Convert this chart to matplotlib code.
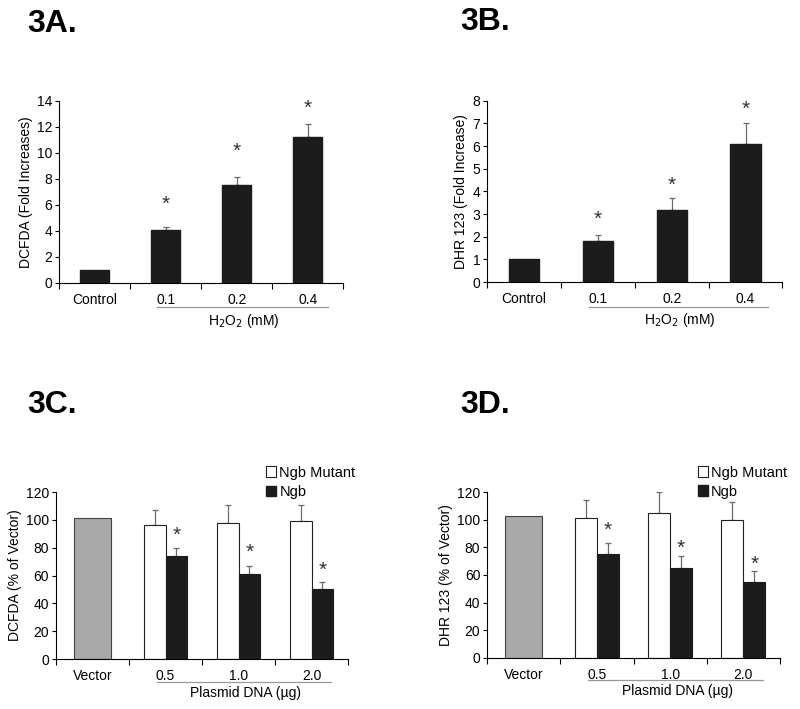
import matplotlib
matplotlib.use('Agg')
import matplotlib.pyplot as plt
from matplotlib.transforms import blended_transform_factory
from matplotlib.patches import Patch

plt.rcParams['font.family'] = ['Liberation Sans', 'DejaVu Sans']
plt.rcParams['font.size'] = 10

# data
h2o2_labels = ['Control', '0.1', '0.2', '0.4']
dcfda_fold = [1.0, 4.1, 7.5, 11.2]
dcfda_fold_err = [0.0, 0.2, 0.6, 1.0]
dcfda_fold_star = [None, 6.0, 10.1, 13.4]
dhr_fold = [1.0, 1.8, 3.2, 6.1]
dhr_fold_err = [0.0, 0.3, 0.5, 0.9]
dhr_fold_star = [None, 2.75, 4.25, 7.6]

dna_labels = ['Vector', '0.5', '1.0', '2.0']
dcfda_vector = 101
dcfda_mutant = [96, 98, 99]
dcfda_mutant_err = [11, 13, 12]
dcfda_ngb = [74, 61, 50]
dcfda_ngb_err = [6, 6, 5]
dcfda_star = [89, 76.5, 64]
dhr_vector = 102.5
dhr_mutant = [101, 105, 99.5]
dhr_mutant_err = [13.5, 15, 13.5]
dhr_ngb = [75, 65, 55]
dhr_ngb_err = [8, 9, 8]
dhr_star = [92, 79.5, 67.5]

DARK = '#1c1c1c'
ERR = '#6a6a6a'


def style_axes(ax, ymax, ystep, labels):
    ax.spines['top'].set_visible(False)
    ax.spines['right'].set_visible(False)
    ax.set_xlim(-0.5, 3.5)
    ax.set_ylim(0, ymax)
    ax.set_yticks(range(0, ymax + 1, ystep))
    # ticks at category boundaries, labels at centres
    ax.set_xticks([-0.5, 0.5, 1.5, 2.5, 3.5])
    ax.set_xticklabels([])
    ax.set_xticks(range(4), minor=True)
    ax.set_xticklabels(labels, minor=True)
    ax.tick_params(axis='x', which='minor', length=0, pad=7)
    ax.tick_params(axis='x', which='major', length=4, direction='out')
    ax.tick_params(axis='y', length=3, direction='out', pad=2)


def group_line(ax, x0, x1, text):
    trans = blended_transform_factory(ax.transData, ax.transAxes)
    ax.plot([x0, x1], [-0.135, -0.135], color='#999999', lw=0.9,
            transform=trans, clip_on=False)
    ax.text((x0 + x1) / 2 + 0.02, -0.16, text, transform=trans,
            ha='center', va='top')


fig = plt.figure(figsize=(8, 7.09), dpi=100)

# --- 3A / 3B: fold increase
for rect, vals, errs, stars, ymax, ystep, ylab, title, tpos, line in [
    ([0.074, 0.601, 0.355, 0.257], dcfda_fold, dcfda_fold_err, dcfda_fold_star,
     14, 2, 'DCFDA (Fold Increases)', '3A.', (0.034, 0.955), (0.88, 3.29)),
    ([0.609, 0.602, 0.369, 0.256], dhr_fold, dhr_fold_err, dhr_fold_star,
     8, 1, 'DHR 123 (Fold Increase)', '3B.', (0.575, 0.958), (0.88, 3.3)),
]:
    ax = fig.add_axes(rect)
    x = range(len(vals))
    ax.bar(x, vals, width=0.41, color=DARK, edgecolor=DARK, zorder=2)
    ax.errorbar(x[1:], vals[1:], yerr=[[0] * 3, errs[1:]], fmt='none',
                ecolor=ERR, elinewidth=0.9, capsize=2.5, capthick=0.9, zorder=1)
    for i, s in enumerate(stars):
        if s is not None:
            ax.text(i, s, '*', ha='center', va='center', fontsize=15, color='#333333')
    style_axes(ax, ymax, ystep, h2o2_labels)
    ax.set_ylabel(ylab, labelpad=3)
    group_line(ax, line[0], line[1], r'H$_2$O$_2$ (mM)')
    fig.text(tpos[0], tpos[1], title, fontsize=23, fontweight='bold')

# --- 3C / 3D: plasmid DNA
for rect, vec, mut, mut_err, ngb, ngb_err, stars, ylab, title, tpos in [
    ([0.070, 0.0705, 0.365, 0.2355], dcfda_vector, dcfda_mutant, dcfda_mutant_err,
     dcfda_ngb, dcfda_ngb_err, dcfda_star, 'DCFDA (% of Vector)', '3C.', (0.034, 0.418)),
    ([0.609, 0.072, 0.366, 0.234], dhr_vector, dhr_mutant, dhr_mutant_err,
     dhr_ngb, dhr_ngb_err, dhr_star, 'DHR 123 (% of Vector)', '3D.', (0.575, 0.418)),
]:
    ax = fig.add_axes(rect)
    ax.bar(0, vec, width=0.5, color='#a9a9a9', edgecolor='#444444', lw=0.8, zorder=2)
    xs = [1, 2, 3]
    xm = [v - 0.15 for v in xs]
    xn = [v + 0.15 for v in xs]
    ax.bar(xm, mut, width=0.3, color='white', edgecolor='#222222', lw=0.8,
           zorder=2, label='Ngb Mutant')
    ax.bar(xn, ngb, width=0.3, color=DARK, edgecolor=DARK, lw=0.8,
           zorder=2, label='Ngb')
    ax.errorbar(xm, mut, yerr=[[0] * 3, mut_err], fmt='none', ecolor=ERR,
                elinewidth=0.9, capsize=2.5, capthick=0.9, zorder=1)
    ax.errorbar(xn, ngb, yerr=[[0] * 3, ngb_err], fmt='none', ecolor=ERR,
                elinewidth=0.9, capsize=2.5, capthick=0.9, zorder=1)
    for xi, s in zip(xn, stars):
        ax.text(xi, s, '*', ha='center', va='center', fontsize=15, color='#333333')
    style_axes(ax, 120, 20, dna_labels)
    ax.set_ylabel(ylab, labelpad=3)
    group_line(ax, 0.88, 3.27, 'Plasmid DNA (\u00b5g)')
    handles = [Patch(facecolor='white', edgecolor='#222222', lw=0.8),
               Patch(facecolor=DARK, edgecolor=DARK)]
    ax.legend(handles, ['Ngb Mutant', 'Ngb'], loc='lower left',
              bbox_to_anchor=(0.72, 0.96), frameon=False, handlelength=0.7,
              handleheight=0.7, handletextpad=0.2, labelspacing=0.35,
              borderaxespad=0, borderpad=0, fontsize=10.5)
    fig.text(tpos[0], tpos[1], title, fontsize=23, fontweight='bold')

fig.savefig('out.png', dpi=100)
